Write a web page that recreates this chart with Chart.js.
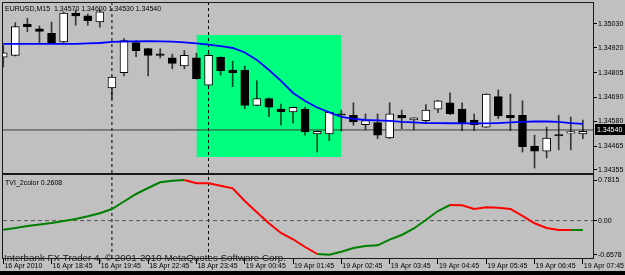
<!DOCTYPE html>
<html><head><meta charset="utf-8">
<script src="https://cdn.jsdelivr.net/npm/chart.js@4.4.1/dist/chart.umd.min.js"></script>
<style>
html,body{margin:0;padding:0;background:#c0c0c0;}
#wrap{position:relative;width:625px;height:275px;overflow:hidden;background:#c0c0c0;}
#c1{position:absolute;left:0;top:0;}
#c2{position:absolute;left:0;top:174px;}
#strip{position:absolute;left:0;top:271px;width:625px;height:4px;background:#000;}
</style></head>
<body><div id="wrap"><canvas id="c1" width="625" height="174"></canvas><canvas id="c2" width="625" height="97"></canvas><div id="strip"></div></div>
<script>
// ---------- data ----------
const symbolTitle = "EURUSD,M15  1.34570 1.34600 1.34530 1.34540";
const indicatorTitle = "TVI_2color 0.2608";
const copyrightText = "Interbank FX Trader 4, \u00A9 2001-2010 MetaQuotes Software Corp.";

const opens  = [1.34876,1.34885,1.35029,1.35008,1.34987,1.34947,1.35080,1.35068,1.35039,1.34734,
                1.34805,1.34944,1.34916,1.34891,1.34873,1.34836,1.34873,1.34747,1.34876,1.34817,
                1.34817,1.34654,1.34685,1.34636,1.34623,1.34636,1.34522,1.34522,1.34614,1.34608,
                1.34565,1.34574,1.34503,1.34608,1.34586,1.34583,1.34636,1.34666,1.34636,1.34586,
                1.34553,1.34694,1.34608,1.34608,1.34466,1.34442,1.34518,1.34525,1.34522];
const highs  = [1.34933,1.35036,1.35056,1.35021,1.35039,1.35086,1.35095,1.35076,1.35095,1.34786,
                1.34962,1.34953,1.34916,1.34916,1.34891,1.34907,1.34895,1.34895,1.34878,1.34858,
                1.34836,1.34768,1.34688,1.34660,1.34646,1.34646,1.34535,1.34624,1.34632,1.34666,
                1.34614,1.34614,1.34666,1.34632,1.34597,1.34657,1.34677,1.34712,1.34666,1.34614,
                1.34708,1.34725,1.34706,1.34675,1.34516,1.34553,1.34608,1.34599,1.34586];
const lows   = [1.34831,1.34882,1.34994,1.34944,1.34938,1.34944,1.35024,1.35024,1.35015,1.34683,
                1.34790,1.34879,1.34790,1.34873,1.34823,1.34823,1.34775,1.34745,1.34793,1.34740,
                1.34638,1.34652,1.34601,1.34562,1.34571,1.34516,1.34438,1.34491,1.34535,1.34562,
                1.34540,1.34500,1.34500,1.34546,1.34540,1.34577,1.34620,1.34611,1.34537,1.34537,
                1.34551,1.34592,1.34537,1.34438,1.34364,1.34411,1.34448,1.34448,1.34500];
const closes = [1.34897,1.35018,1.35018,1.34996,1.34941,1.35080,1.35067,1.35045,1.35086,1.34784,
                1.34953,1.34907,1.34885,1.34885,1.34848,1.34885,1.34777,1.34885,1.34814,1.34805,
                1.34654,1.34685,1.34645,1.34623,1.34645,1.34531,1.34534,1.34622,1.34608,1.34577,
                1.34583,1.34516,1.34614,1.34596,1.34596,1.34632,1.34675,1.34614,1.34574,1.34565,
                1.34706,1.34605,1.34596,1.34463,1.34442,1.34503,1.34512,1.34531,1.34534];
const maValues = [1.34938,1.34938,1.34938,1.34938,1.34938,1.34938,1.34938,1.34940,1.34942,1.34947,
                  1.34949,1.34950,1.34951,1.34950,1.34948,1.34945,1.34940,1.34935,1.34928,1.34919,
                  1.34898,1.34864,1.34817,1.34767,1.34711,1.34674,1.34644,1.34621,1.34600,1.34591,
                  1.34586,1.34584,1.34582,1.34577,1.34575,1.34572,1.34572,1.34571,1.34570,1.34570,
                  1.34570,1.34572,1.34575,1.34577,1.34579,1.34579,1.34577,1.34572,1.34568];
const tviValues = [-0.175,-0.143,-0.104,-0.075,-0.046,-0.008,0.031,0.083,0.141,0.224,
                   0.368,0.513,0.628,0.738,0.769,0.7815,0.719,0.719,0.673,0.622,
                   0.378,0.160,-0.052,-0.239,-0.360,-0.509,-0.644,-0.6578,-0.599,-0.528,
                   -0.489,-0.476,-0.368,-0.277,-0.152,0.012,0.185,0.301,0.295,0.224,
                   0.256,0.249,0.224,0.089,-0.052,-0.143,-0.181,-0.181,-0.181];
const tviFallingSpans = [[15, 26], [37, 47]];
const xTickBars = [0,4,8,12,16,20,24,28,32,36,40,44,48];
const xTickLabels = ["16 Apr 2010","16 Apr 18:45","16 Apr 19:45","18 Apr 22:45","18 Apr 23:45",
                     "19 Apr 00:45","19 Apr 01:45","19 Apr 02:45","19 Apr 03:45","19 Apr 04:45",
                     "19 Apr 05:45","19 Apr 06:45","19 Apr 07:45"];
const priceTicks = [1.35030,1.34920,1.34805,1.34690,1.34580,1.34465,1.34355];
const tviTicks = [0.7815, 0, -0.6578];
const separatorBars = [9, 17];
const bidPrice = 1.34540;
const boxFromBar = 16, boxToBar = 28, boxTopPrice = 1.34979, boxBottomPrice = 1.34415;

// ---------- ranges ----------
const xMin = -0.02, xMax = 48.84;
const priceMin = 1.34341, priceMax = 1.35127;
const tviMin = -0.721, tviMax = 0.879;

const FONT = "'Liberation Sans', Arial, sans-serif";
Chart.defaults.font.family = FONT;
Chart.defaults.font.size = 7;
Chart.defaults.color = '#000';

const bars = opens.map((o, i) => i);

const framePlugin = {
  id: 'frame',
  afterDatasetsDraw(chart) {
    const {ctx, chartArea: a} = chart;
    ctx.save();
    ctx.strokeStyle = '#1a1a1a'; ctx.lineWidth = 1;
    ctx.strokeRect(a.left - 0.5, a.top - 0.5, a.right - a.left + 1, a.bottom - a.top + 1);
    ctx.restore();
  }
};

const mainText = {
  id: 'mainText',
  afterDraw(chart) {
    const ctx = chart.ctx;
    ctx.save();
    ctx.font = '7px ' + FONT;
    ctx.fillStyle = '#000';
    ctx.textBaseline = 'alphabetic';
    ctx.fillText(symbolTitle, 5, 10.5);
    const y = chart.scales.y.getPixelForValue(bidPrice);
    ctx.fillStyle = '#000';
    ctx.fillRect(595, Math.round(y) - 6, 30, 11);
    ctx.fillStyle = '#fff';
    ctx.textBaseline = 'middle';
    ctx.fillText(bidPrice.toFixed(5), 597, y);
    ctx.restore();
  }
};

const subText = {
  id: 'subText',
  afterDraw(chart) {
    const ctx = chart.ctx;
    ctx.save();
    ctx.fillStyle = '#000';
    ctx.font = '7px ' + FONT;
    ctx.textBaseline = 'alphabetic';
    ctx.fillText(indicatorTitle, 5, 11);
    ctx.font = '9.8px ' + FONT;
    ctx.fillStyle = '#1e1e1e';
    ctx.fillText(copyrightText, 4, 87);
    ctx.restore();
  }
};

function vLine(b, lo, hi) {
  return {type: 'line', data: [{x: b, y: lo}, {x: b, y: hi}], borderColor: '#000', borderWidth: 1,
          borderDash: [3, 3], pointRadius: 0, order: 8};
}
function hLine(v) { return [{x: xMin, y: v}, {x: xMax, y: v}]; }

// ---------- main chart ----------
new Chart(document.getElementById('c1'), {
  type: 'bar',
  data: {
    datasets: [
      {type: 'line', data: [{x: boxFromBar, y: boxTopPrice}, {x: boxToBar, y: boxTopPrice}],
       fill: {value: boxBottomPrice}, backgroundColor: '#00ff7f', borderWidth: 0, pointRadius: 0, order: 10},
      ...separatorBars.map(b => vLine(b, priceMin, priceMax)),
      {type: 'line', data: hLine(bidPrice), borderColor: '#3c3c3c', borderWidth: 1, pointRadius: 0, order: 7},
      {type: 'bar', data: bars.map(i => ({x: i, y: [lows[i], highs[i]]})), backgroundColor: 'rgba(0,0,0,0.72)',
       borderWidth: 0, barThickness: 1, grouped: false, order: 5},
      {type: 'bar', data: bars.map(i => ({x: i, y: [opens[i], closes[i]]})),
       backgroundColor: bars.map(i => closes[i] >= opens[i] ? '#ffffff' : '#000000'),
       borderColor: '#000', borderWidth: 1, borderSkipped: false, barThickness: 8, minBarLength: 1.5,
       grouped: false, order: 4},
      {type: 'line', data: bars.map(i => ({x: i, y: maValues[i]})), borderColor: '#0000ff', borderWidth: 1.8,
       pointRadius: 0, tension: 0, order: 1}
    ]
  },
  options: {
    responsive: false, devicePixelRatio: 1, animation: false,
    layout: {autoPadding: false, padding: {left: 3, top: 3, right: 0, bottom: 1}},
    plugins: {legend: {display: false}, tooltip: {enabled: false}},
    scales: {
      x: {type: 'linear', min: xMin, max: xMax, offset: false, display: false},
      y: {position: 'right', min: priceMin, max: priceMax,
          afterBuildTicks: s => { s.ticks = priceTicks.map(v => ({value: v})); },
          afterFit: s => { s.width = 32; s.paddingTop = 0; s.paddingBottom = 0; },
          grid: {drawOnChartArea: false, drawTicks: true, tickLength: 4, color: '#000'},
          border: {display: true, color: '#000'},
          ticks: {padding: 1, color: '#000', font: {size: 7}, callback: v => Number(v).toFixed(5)}}
    }
  },
  plugins: [framePlugin, mainText]
});

// ---------- indicator chart ----------
new Chart(document.getElementById('c2'), {
  type: 'line',
  data: {
    datasets: [
      ...separatorBars.map(b => vLine(b, tviMin, tviMax)),
      {data: hLine(0), borderColor: '#555', borderWidth: 1, borderDash: [4, 3], pointRadius: 0, order: 6},
      {data: bars.map(i => ({x: i, y: tviValues[i]})), borderWidth: 2, pointRadius: 0, tension: 0, order: 1,
       borderColor: '#008000',
       segment: {borderColor: c => tviFallingSpans.some(([a, b]) => c.p0DataIndex >= a && c.p0DataIndex < b) ? '#ff0000' : '#008000'}}
    ]
  },
  options: {
    responsive: false, devicePixelRatio: 1, animation: false,
    layout: {autoPadding: false, padding: {left: 3, top: 1, right: 0, bottom: 0}},
    plugins: {legend: {display: false}, tooltip: {enabled: false}},
    scales: {
      x: {type: 'linear', min: xMin, max: xMax, offset: false, position: 'bottom',
          afterBuildTicks: s => { s.ticks = xTickBars.map(v => ({value: v})); },
          afterFit: s => { s.height = 13; s.paddingLeft = 0; s.paddingRight = 0; },
          grid: {drawOnChartArea: false, drawTicks: true, tickLength: 6, color: '#000'},
          border: {display: true, color: '#000'},
          ticks: {autoSkip: false, maxRotation: 0, minRotation: 0, align: 'start', labelOffset: 1,
                  padding: -1.5, color: '#000', font: {size: 7, lineHeight: 1},
                  callback: (v, i) => xTickLabels[i]}},
      y: {position: 'right', min: tviMin, max: tviMax,
          afterBuildTicks: s => { s.ticks = tviTicks.map(v => ({value: v})); },
          afterFit: s => { s.width = 32; s.paddingTop = 0; s.paddingBottom = 0; },
          grid: {drawOnChartArea: false, drawTicks: true, tickLength: 4, color: '#000'},
          border: {display: true, color: '#000'},
          ticks: {padding: 1, color: '#000', font: {size: 7},
                  callback: v => v === 0 ? '0.00' : Number(v).toFixed(4)}}
    }
  },
  plugins: [framePlugin, subText]
});
</script>
</body></html>
